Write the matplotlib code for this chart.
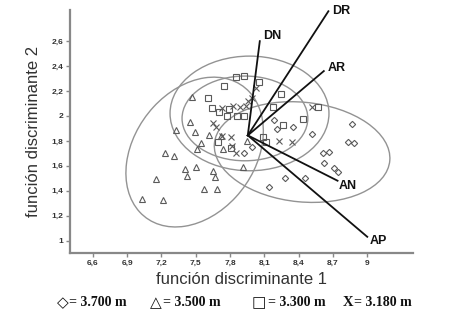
import matplotlib

matplotlib.use("Agg")
import matplotlib.pyplot as plt
from matplotlib.patches import Ellipse

# discriminant scores, one list pair per altitude group
diamond_x = [8.865, 8.181, 8.347, 8.514, 8.830, 8.882, 8.611, 8.663, 8.619, 8.707,
             8.742, 8.277, 8.453, 8.137, 7.918, 7.996, 8.207]
diamond_y = [1.932, 1.964, 1.908, 1.852, 1.788, 1.780, 1.700, 1.708, 1.620, 1.580,
             1.548, 1.500, 1.500, 1.428, 1.700, 1.748, 1.892]

triangle_x = [7.470, 7.453, 7.330, 7.496, 7.619, 7.724, 7.549, 7.514, 7.742, 7.228,
              7.307, 7.404, 7.500, 7.421, 7.654, 7.672, 7.154, 7.575, 7.689, 7.032,
              7.216, 7.944, 7.917]
triangle_y = [2.148, 1.948, 1.884, 1.868, 1.844, 1.836, 1.780, 1.732, 1.732, 1.700,
              1.676, 1.572, 1.588, 1.516, 1.556, 1.508, 1.492, 1.412, 1.412, 1.332,
              1.324, 1.796, 1.588]

square_x = [7.856, 7.918, 7.751, 7.611, 7.646, 7.707, 7.795, 7.777, 7.865, 7.926,
            8.084, 7.698, 7.804, 8.242, 8.172, 8.260, 8.435, 8.567, 8.049, 8.111]
square_y = [2.316, 2.324, 2.244, 2.140, 2.060, 2.028, 2.052, 1.996, 1.996, 1.996,
            1.828, 1.788, 1.740, 2.172, 2.068, 1.924, 1.972, 2.068, 2.276, 1.788]

cross_x = [7.654, 7.681, 7.733, 7.812, 7.821, 7.830, 7.891, 7.953, 7.996, 8.023,
           7.935, 8.225, 8.339, 8.514, 7.733, 7.856]
cross_y = [1.940, 1.908, 1.836, 1.828, 1.756, 2.076, 2.068, 2.116, 2.140, 2.228,
           2.076, 1.796, 1.788, 2.068, 2.060, 1.700]

# group ellipses: diamonds, triangles, squares, crosses
ell_cx = [8.43, 7.49, 7.97, 7.93]
ell_cy = [1.71, 1.71, 2.02, 1.98]
ell_w = [1.54, 1.36, 1.39, 1.10]
ell_h = [0.80, 1.02, 0.92, 0.68]
ell_angle = [-5, 45, 0, 0]

# variable vectors
vec_origin = (7.955, 1.844)
vec_names = ["DN", "DR", "AR", "AN", "AP"]
vec_end_x = [8.06, 8.66, 8.62, 8.74, 9.00]
vec_end_y = [2.60, 2.84, 2.36, 1.48, 1.03]
vec_label_offset = [(3, 5), (4, 0), (4, 3), (1, -5), (2, -4)]

x_ticks = [6.6, 6.9, 7.2, 7.5, 7.8, 8.1, 8.4, 8.7, 9.0]
x_tick_labels = ["6,6", "6,9", "7,2", "7,5", "7,8", "8,1", "8,4", "8,7", "9"]
y_ticks = [1.0, 1.2, 1.4, 1.6, 1.8, 2.0, 2.2, 2.4, 2.6]
y_tick_labels = ["1", "1,2", "1,4", "1,6", "1,8", "2", "2,2", "2,4", "2,6"]

legend_symbols = ["\u25c7", "\u25b3", "\u25a1", "X"]
legend_labels = ["= 3.700 m", "= 3.500 m", "= 3.300 m", "= 3.180 m"]
legend_x = [57, 150, 252, 343]
legend_gap = [12, 13, 16, 11]

fig = plt.figure(figsize=(4.59, 3.21), dpi=100)
ax = fig.add_axes([70 / 459, 68 / 321, 343 / 459, 243 / 321])

for cx, cy, w, h, a in zip(ell_cx, ell_cy, ell_w, ell_h, ell_angle):
    ax.add_patch(Ellipse((cx, cy), w, h, angle=a, fill=False, edgecolor="#939393", linewidth=1.0))

mk = dict(linestyle="none", markerfacecolor="none", markeredgecolor="#5a5a5a", markeredgewidth=0.8)
ax.plot(diamond_x, diamond_y, marker="D", markersize=3.2, **mk)
ax.plot(triangle_x, triangle_y, marker="^", markersize=4.2, **mk)
ax.plot(square_x, square_y, marker="s", markersize=4.0, **mk)
ax.plot(cross_x, cross_y, marker="x", markersize=4.0, **mk)

for name, ex, ey, off in zip(vec_names, vec_end_x, vec_end_y, vec_label_offset):
    ax.plot([vec_origin[0], ex], [vec_origin[1], ey], color="#111111", linewidth=1.3)
    ax.annotate(name, (ex, ey), xytext=off, textcoords="offset pixels", ha="left", va="center",
                fontsize=9, fontweight="bold", family="Liberation Sans", color="#111111")

ax.set_xlim(6.4, 9.4)
ax.set_ylim(0.9, 2.85)
ax.set_xticks(x_ticks)
ax.set_xticklabels(x_tick_labels)
ax.set_yticks(y_ticks)
ax.set_yticklabels(y_tick_labels)
for lab in ax.get_xticklabels() + ax.get_yticklabels():
    lab.set_fontsize(6)
    lab.set_fontweight("bold")
    lab.set_family("Liberation Sans")
    lab.set_color("#333333")
ax.tick_params(length=3, width=1, color="#888888", pad=2)

for side in ["top", "right"]:
    ax.spines[side].set_visible(False)
for side in ["left", "bottom"]:
    ax.spines[side].set_color("#888888")
    ax.spines[side].set_linewidth(1.6)

ax.set_xlabel("función discriminante 1", fontsize=12, family="Liberation Sans", color="#333333", labelpad=4)
ax.set_ylabel("función discriminante 2", fontsize=12, family="Liberation Sans", color="#333333", labelpad=7)

for sym, lab, lx, gap in zip(legend_symbols, legend_labels, legend_x, legend_gap):
    is_x = sym == "X"
    fig.text(lx / 459, 1 - 303 / 321, sym, fontsize=10.5 if is_x else 11, fontweight="bold",
             family=["Liberation Serif"] if is_x else ["DejaVu Sans"],
             va="center", ha="left", color="#111111")
    fig.text((lx + gap) / 459, 1 - 303 / 321, lab, fontsize=10, fontweight="bold",
             family=["Liberation Serif", "DejaVu Sans"], va="center", ha="left", color="#111111")

fig.savefig("out.png", dpi=100)
plt.close(fig)
